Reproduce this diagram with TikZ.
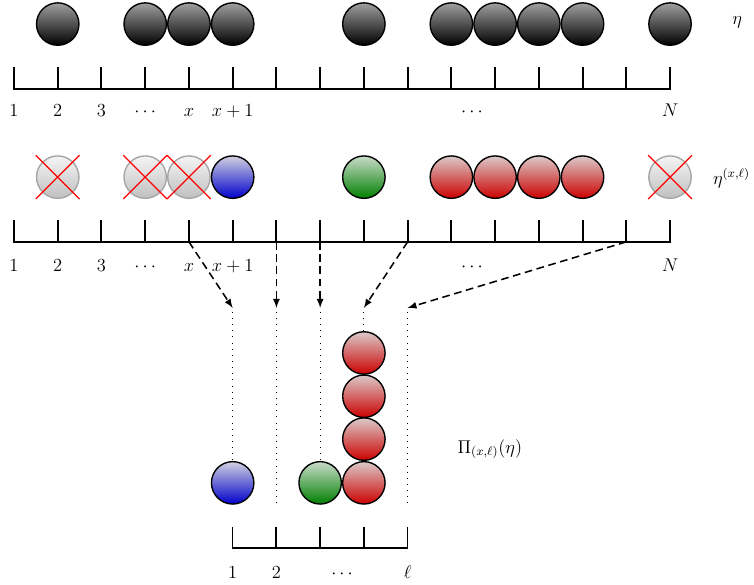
\documentclass[tikz,border=0pt]{standalone}
\begin{document}
\begin{tikzpicture}[
    font=\large,
    ball/.style={circle, draw=black, line width=0.9pt, minimum size=0.97cm, inner sep=0pt},
    dark ball/.style={ball, top color=gray!75, bottom color=black},
    blue ball/.style={ball, top color=blue!20!gray!30, bottom color=blue!80!black},
    green ball/.style={ball, top color=green!20!gray!35, bottom color=green!50!black},
    red ball/.style={ball, top color=red!20!gray!35, bottom color=red!80!black},
    gone ball/.style={ball, draw=gray!70, top color=gray!8, bottom color=gray!50},
    axis/.style={line width=0.9pt},
    tick/.style={line width=1.3pt},
    map/.style={dash pattern=on 5pt off 3pt, line width=1pt, -latex},
    guide/.style={dash pattern=on 0.6pt off 3.4pt, line width=0.6pt},
  ]
    \useasboundingbox (-0.32,-13.355) rectangle (16.92,0);
    % configuration eta
    \foreach \i in {2,4,5,6,9,11,12,13,14,16}
        \node[dark ball] (a\i) at (\i-1,-0.55) {};
    \draw[axis] (0,-1.53) -- (0,-2.035) -- (15,-2.035) -- (15,-1.53);
    \foreach \i in {1,...,14}
        \draw[tick] (\i,-2.035) -- (\i,-1.53);
    \foreach \x/\t in {0/1,1/2,2/3,3/\cdots,4/x,5/x+1,10.47/\cdots,15/N}
        \node[anchor=base] (la\x) at (\x,-2.66) {$\t$};
    \node[anchor=west] (eta) at (16.3,-0.5) {$\eta$};

    % configuration eta^(x,l)
    \foreach \i in {2,4,5,16} {
        \node[gone ball] (g\i) at (\i-1,-4.05) {};
        \draw[red, thick] (\i-1.5,-4.55) -- (\i-0.5,-3.55) (\i-1.5,-3.55) -- (\i-0.5,-4.55);
    }
    \node[blue ball] (b6) at (5,-4.05) {};
    \node[green ball] (b9) at (8,-4.05) {};
    \foreach \i in {11,...,14}
        \node[red ball] (b\i) at (\i-1,-4.05) {};
    \draw[axis] (0,-5.03) -- (0,-5.53) -- (15,-5.53) -- (15,-5.03);
    \foreach \i in {1,...,14} {
        \draw[tick] (\i,-5.53) -- (\i,-5.03);
        \coordinate (s\i) at (\i,-5.53);
    }
    \foreach \x/\t in {0/1,1/2,2/3,3/\cdots,4/x,5/x+1,10.47/\cdots,15/N}
        \node[anchor=base] (lb\x) at (\x,-6.2) {$\t$};
    \node[anchor=west] (etaxl) at (15.86,-4.07) {$\eta^{(x,\ell)}$};

    % projected configuration
    \foreach \i in {1,...,5}
        \coordinate (t\i) at (\i+4,-7.04);
    \draw[map] (s4) -- (t1);
    \draw[map] (s6) -- (t2);
    \draw[map] (s7) -- (t3);
    \draw[map] (s9) -- (t4);
    \draw[map] (s14) -- (t5);

    \node[blue ball] (p1) at (5,-11.04) {};
    \node[green ball] (p3) at (7,-11.04) {};
    \node[red ball] (p4a) at (8,-11.04) {};
    \node[red ball] (p4b) at (8,-10.04) {};
    \node[red ball] (p4c) at (8,-9.06) {};
    \node[red ball] (p4d) at (8,-8.07) {};
    \coordinate (e2) at (6,-11.55);
    \coordinate (e5) at (9,-11.55);
    \draw[guide] (5,-7.13) -- (p1.north);
    \draw[guide] (6,-7.13) -- (e2);
    \draw[guide] (7,-7.13) -- (p3.north);
    \draw[guide] (8,-7.13) -- (p4d.north);
    \draw[guide] (9,-7.13) -- (e5);

    \draw[axis] (5,-12.05) -- (5,-12.53) -- (9,-12.53) -- (9,-12.05);
    \foreach \i in {6,7,8}
        \draw[tick] (\i,-12.53) -- (\i,-12.05);
    \foreach \x/\t in {5/1,6/2,7.5/\cdots,9/\ell}
        \node[anchor=base] (lc\x) at (\x,-13.23) {$\t$};
    \node (pi) at (10.88,-10.27) {$\Pi_{(x,\ell)}(\eta)$};
\end{tikzpicture}
\end{document}
